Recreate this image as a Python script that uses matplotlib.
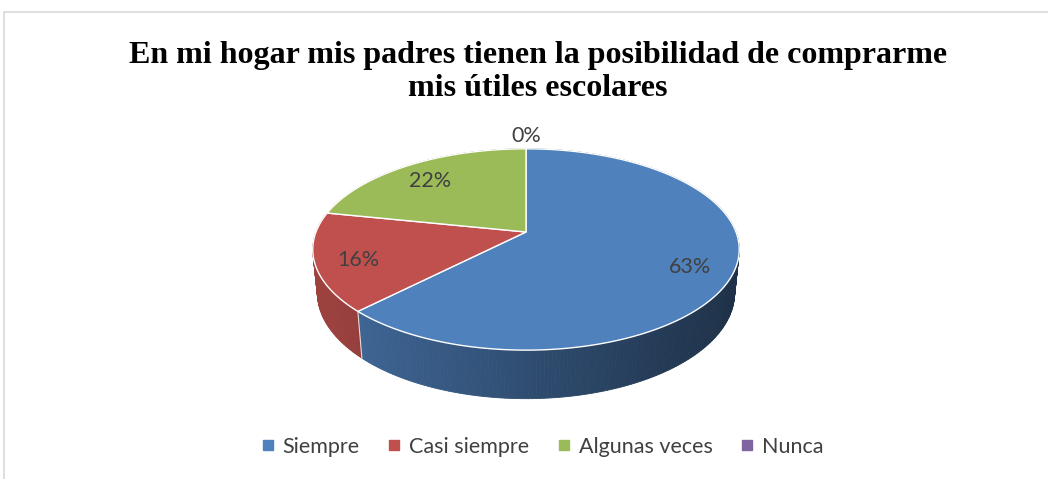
#!/usr/bin/env python3
"""3D-looking pie chart drawn with matplotlib patches (perspective projection)."""

import numpy as np
import matplotlib
matplotlib.use("Agg")
import matplotlib.pyplot as plt
from matplotlib.patches import Polygon, Rectangle
from matplotlib.lines import Line2D

# Data
categories = ["Siempre", "Casi siempre", "Algunas veces", "Nunca"]
percents = [63, 16, 22, 0]
colors = ["#4F81BD", "#C0504D", "#9BBB59", "#8064A2"]
title = "En mi hogar mis padres tienen la posibilidad de comprarme\nmis útiles escolares"

# Geometry of the projected pie (pixel space)
W, H = 1048, 479
CX, CY = 526, 232          # screen position of pie centre
SCALE = 210                 # radius in pixels
TILT = np.radians(27.7)     # camera elevation
DIST = 5.1                  # camera distance (in radii)
DEPTH = 0.235               # pie thickness (in radii)


def project(X, Y, Z):
    """Perspective projection of world points onto the figure (pixels)."""
    s, c = np.sin(TILT), np.cos(TILT)
    w = DIST - (Y * c + Z * s)
    f = DIST / w * SCALE
    sx = CX + X * f
    sy = CY - (-Y * s + Z * c) * f
    return sx, sy


def rim(phi, r=1.0, z=0.0):
    # phi measured clockwise from 12 o'clock, like Excel
    X = r * np.sin(phi)
    Y = -r * np.cos(phi)
    return project(X, Y, np.full_like(X, z))


fig = plt.figure(figsize=(W / 100, H / 100), dpi=100)
ax = fig.add_axes([0, 0, 1, 1])
ax.set_xlim(0, W)
ax.set_ylim(H, 0)
ax.axis("off")

# chart frame
fig.add_artist(Rectangle((4 / W, -0.1), 1.2, 1 - 12 / H + 0.1,
                         transform=fig.transFigure, fill=False,
                         edgecolor="#d9d9d9", linewidth=1.2))

vals = np.array(percents, dtype=float)
bounds = np.concatenate([[0], np.cumsum(vals)]) / vals.sum() * 2 * np.pi

# ---- sides (gradient strips) ----
xmin, xmax = CX - SCALE, CX + SCALE
for i, col in enumerate(colors):
    t1, t2 = bounds[i], bounds[i + 1]
    if t2 - t1 <= 0:
        continue
    n = max(int((t2 - t1) / (2 * np.pi) * 400), 2)
    phis = np.linspace(t1, t2, n + 1)
    tx, ty = rim(phis)
    bx, by = rim(phis, z=-DEPTH)
    base = np.array(matplotlib.colors.to_rgb(col))
    for k in range(n):
        xm = (tx[k] + tx[k + 1]) / 2
        frac = np.clip((xm - xmin) / (xmax - xmin), 0, 1)
        shade = 0.82 - 0.44 * frac
        pts = [(tx[k], ty[k]), (tx[k + 1], ty[k + 1]),
               (bx[k + 1], by[k + 1]), (bx[k], by[k])]
        ax.add_patch(Polygon(pts, closed=True, facecolor=base * shade,
                             edgecolor=base * shade, linewidth=0.6))

# white seams on the visible side
for t in bounds[:-1]:
    Yv = -np.cos(t)
    if Yv > 0:
        x0, y0 = rim(np.array([t]))
        x1, y1 = rim(np.array([t]), z=-DEPTH)
        ax.plot([x0[0], x1[0]], [y0[0], y1[0]], color="white", lw=0.8, alpha=0.8)

# ---- top faces ----
for i, col in enumerate(colors):
    t1, t2 = bounds[i], bounds[i + 1]
    if t2 - t1 <= 0:
        continue
    phis = np.linspace(t1, t2, 200)
    x, y = rim(phis)
    pts = np.vstack([[CX, CY], np.column_stack([x, y])])
    ax.add_patch(Polygon(pts, closed=True, facecolor=col,
                         edgecolor="white", linewidth=1.0))

# ---- data labels ----
for i, p in enumerate(percents):
    mid = (bounds[i] + bounds[i + 1]) / 2
    r = 0.8 if p > 0 else 1.25
    lx, ly = rim(np.array([mid]), r=r)
    ax.text(lx[0], ly[0] + 4, f"{p}%", ha="center", va="center",
            fontsize=15.5, color="#404040", family="Lato")

# ---- title ----
ax.text(538, 72, title, ha="center", va="center", fontsize=23,
        fontweight="bold", family="Liberation Serif", linespacing=1.2)

# ---- legend ----
handles = [Line2D([], [], marker="s", linestyle="none", markersize=6.5,
                  markerfacecolor=c, markeredgecolor=c) for c in colors]
fig.legend(handles, categories, loc="center", bbox_to_anchor=(542 / W, 1 - 447 / H),
           ncol=4, frameon=False, handlelength=0.7, handletextpad=0.35,
           columnspacing=1.25, prop={"family": "Lato", "size": 15.5},
           labelcolor="#404040")

fig.savefig("out.png", dpi=100)
